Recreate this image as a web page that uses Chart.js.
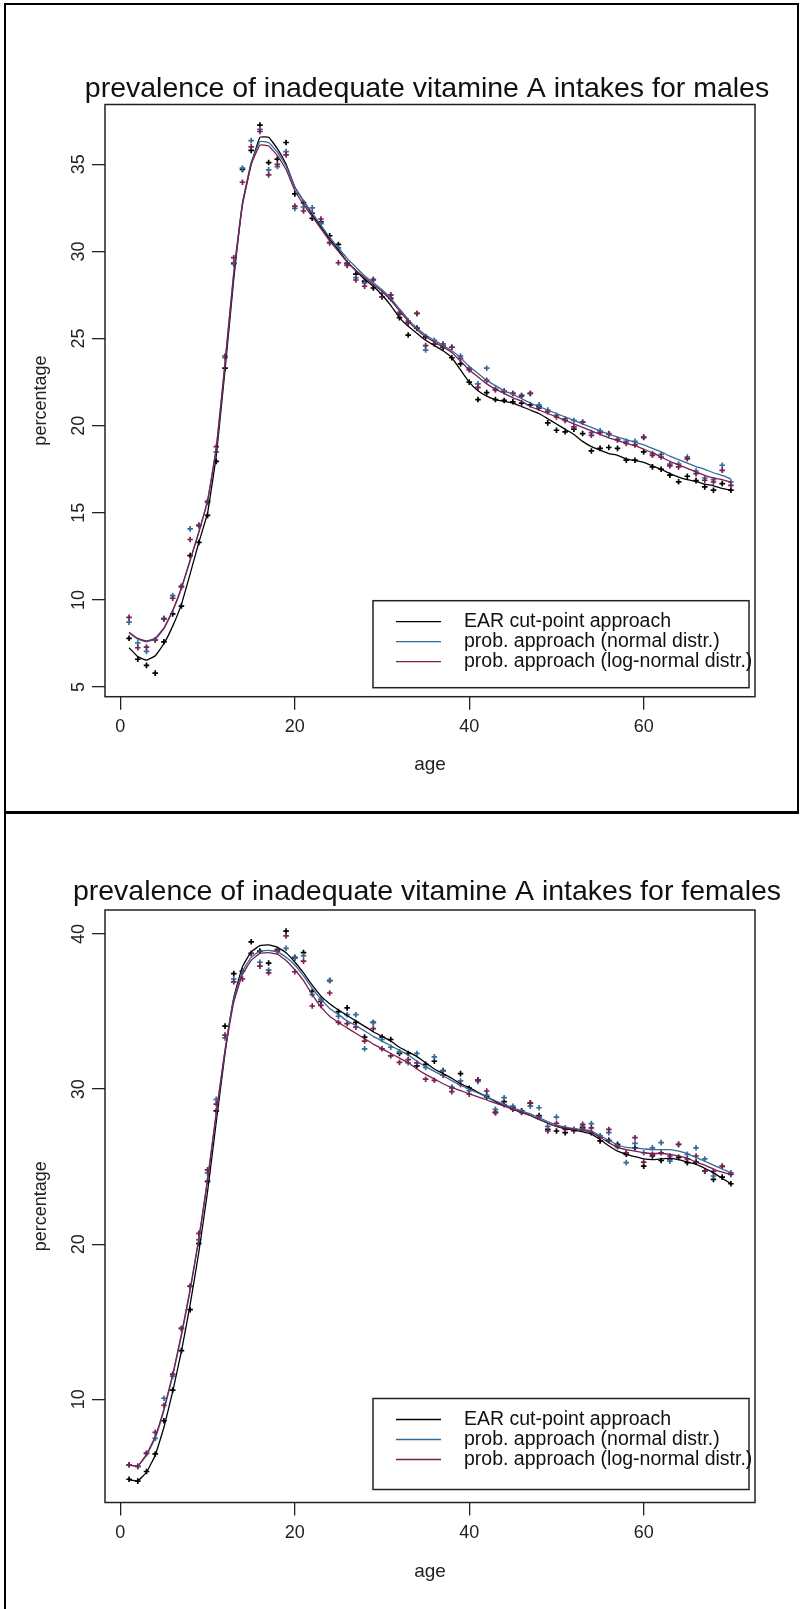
<!DOCTYPE html>
<html lang="en">
<head>
<meta charset="UTF-8">
<title>prevalence of inadequate vitamine A intakes</title>
<script src="https://cdn.jsdelivr.net/npm/chart.js@4.4.1/dist/chart.umd.min.js"></script>
<style>
    body {
        margin: 0;
        background: #fff;
        font-family: "Liberation Sans", Arial, sans-serif;
    }
    .page {
        position: relative;
        width: 800px;
        height: 1609px;
        overflow: hidden;
    }
    .frame {
        position: absolute;
        box-sizing: border-box;
        border: 2px solid #000;
    }
    #frameTop { left: 4px; top: 3px; width: 795px; height: 811px; border-bottom-width: 3px; }
    #frameBottom { left: 4px; top: 811px; width: 820px; height: 820px; border-top: none; }
    canvas { position: absolute; left: 0; }
    #maleChart { top: 0; }
    #femaleChart { top: 811px; }
</style>
</head>
<body>
<div class="page">
    <div class="frame" id="frameTop"></div>
    <div class="frame" id="frameBottom"></div>
    <canvas id="maleChart" width="800" height="811"></canvas>
    <canvas id="femaleChart" width="800" height="798"></canvas>
</div>

<script>
// ages 1..70
const ages = [1,2,3,4,5,6,7,8,9,10,11,12,13,14,15,16,17,18,19,20,
    21,22,23,24,25,26,27,28,29,30,31,32,33,34,35,36,37,38,39,40,
    41,42,43,44,45,46,47,48,49,50,51,52,53,54,55,56,57,58,59,60,
    61,62,63,64,65,66,67,68,69,70];

const seriesNames = ['EAR cut-point approach', 'prob. approach (normal distr.)', 'prob. approach (log-normal distr.)'];
const xTicks = [0, 20, 40, 60];
const maleYTicks = [5, 10, 15, 20, 25, 30, 35];
const femaleYTicks = [10, 20, 30, 40];

// males - observed
const maleEarPts = [7.8,6.6,6.25,5.8,7.6,9.2,9.65,12.55,13.3,14.85,
    17.95,23.3,29.3,34.7,35.8,37.25,35.1,35.3,36.25,33.3,
    32.8,31.9,31.7,30.9,30.4,29.3,28.7,28.3,27.9,27.4,
    27.3,26.2,25.2,25.6,25.1,24.7,24.5,23.9,23.55,22.5,
    21.5,21.9,21.5,21.45,21.37,21.3,21.2,21.1,20.16,19.74,
    19.65,19.8,19.55,18.55,18.7,18.75,18.7,18.02,18.02,18.5,
    17.64,17.5,17.16,16.78,17.1,16.85,16.49,16.3,16.68,16.3];
const maleNormPts = [8.73,7.53,7.05,7.7,8.95,10.25,10.8,14.08,14.25,15.6,
    18.5,23.9,29.35,34.78,36.36,37.0,34.68,34.87,35.73,32.47,
    32.55,32.5,31.6,30.5,30.2,29.35,28.5,28.2,28.4,27.6,
    27.5,26.5,26.0,26.44,24.34,24.9,24.7,24.5,24.0,23.3,
    22.4,23.3,22.1,22.0,21.85,21.75,21.85,21.2,20.9,20.6,
    20.4,20.3,20.2,19.6,19.7,19.5,19.2,19.1,19.1,19.36,
    18.4,18.35,17.8,17.8,18.2,17.4,17.0,16.9,17.73,16.77];
const maleLogPts = [9.0,7.26,7.3,7.7,8.9,10.1,10.75,13.47,14.3,15.66,
    18.8,24.0,29.64,33.97,36.0,36.88,34.39,35.0,35.54,32.6,
    32.32,32.2,31.86,30.5,29.35,29.2,28.36,28.0,28.36,27.4,
    27.5,26.4,25.9,26.44,24.6,24.7,24.6,24.5,23.86,23.2,
    22.2,22.6,22.05,21.95,21.85,21.7,21.85,21.0,20.8,20.5,
    20.3,19.93,20.2,19.45,19.6,19.55,19.2,18.98,18.9,19.32,
    18.3,18.2,17.7,17.64,18.1,17.25,16.87,16.77,17.44,16.58];

// males - smoothed
const maleEarFit = [7.26,6.75,6.55,6.8,7.5,8.5,9.75,11.5,13.3,15.0,
    18.3,23.2,28.4,32.7,35.0,36.55,36.55,35.9,35.0,33.7,
    32.9,32.1,31.4,30.7,30.1,29.4,28.9,28.4,28.0,27.5,
    26.9,26.2,25.7,25.3,24.9,24.6,24.3,23.9,23.2,22.5,
    22.0,21.7,21.5,21.4,21.3,21.1,20.9,20.7,20.4,20.1,
    19.8,19.5,19.1,18.8,18.6,18.4,18.3,18.1,18.0,17.9,
    17.7,17.5,17.25,17.05,16.9,16.8,16.65,16.55,16.4,16.3];
const maleNormFit = [8.1,7.75,7.6,7.75,8.35,9.35,10.65,12.25,13.9,15.7,
    18.7,23.6,28.8,32.8,35.1,36.3,36.25,35.7,34.9,33.7,
    32.9,32.2,31.5,30.8,30.2,29.6,29.1,28.6,28.2,27.8,
    27.3,26.7,26.1,25.6,25.2,24.9,24.6,24.3,23.9,23.4,
    23.0,22.6,22.3,22.0,21.8,21.55,21.3,21.1,20.9,20.7,
    20.5,20.3,20.1,19.9,19.7,19.5,19.35,19.2,19.05,18.9,
    18.7,18.5,18.25,18.05,17.85,17.65,17.5,17.3,17.15,16.95];
const maleLogFit = [8.15,7.8,7.65,7.8,8.4,9.4,10.7,12.3,13.9,15.7,
    18.7,23.6,28.7,32.7,35.0,36.1,36.05,35.5,34.7,33.5,
    32.7,32.0,31.3,30.6,30.0,29.4,28.9,28.5,28.1,27.7,
    27.2,26.6,26.0,25.5,25.1,24.8,24.5,24.2,23.7,23.2,
    22.8,22.4,22.1,21.85,21.6,21.4,21.1,20.9,20.7,20.5,
    20.3,20.1,19.9,19.7,19.5,19.3,19.15,19.0,18.85,18.65,
    18.45,18.2,17.95,17.75,17.55,17.35,17.15,17.0,16.9,16.75];

// females - observed
const femaleEarPts = [4.85,4.73,5.35,6.48,8.62,10.6,13.14,15.78,20.05,24.06,
    28.6,34.06,37.45,37.6,39.5,38.9,38.13,39.0,40.19,38.5,
    38.8,36.3,35.66,37.0,35.0,35.24,34.3,33.36,34.3,33.36,
    33.2,32.3,32.3,31.5,31.6,31.8,31.2,30.1,31.0,30.06,
    30.6,29.5,28.5,29.2,28.8,28.6,29.1,28.3,27.4,27.3,
    27.2,27.4,27.5,27.2,26.66,26.7,26.44,25.8,26.22,25.04,
    25.69,25.4,25.5,25.6,25.26,25.3,24.72,24.18,24.33,23.9];
const femaleNormPts = [5.78,5.68,6.5,7.49,10.07,11.5,14.57,17.3,20.3,24.6,
    29.34,33.3,37.1,37.6,38.75,38.18,37.67,38.95,39.08,38.45,
    38.6,36.1,35.8,37.0,34.7,34.8,34.8,32.6,34.3,33.2,
    32.7,32.4,31.7,32.3,31.4,32.08,31.17,30.1,30.53,29.9,
    30.5,29.6,28.7,29.45,28.9,28.55,28.9,28.8,27.6,28.2,
    27.5,27.4,27.6,27.78,27.0,27.2,26.3,25.26,26.5,25.9,
    26.22,26.55,25.36,26.44,25.8,26.22,25.5,24.4,25.0,24.6];
const femaleLogPts = [5.78,5.68,6.53,7.87,9.62,11.63,14.57,17.28,20.7,24.8,
    29.04,33.48,36.92,37.1,38.75,37.93,37.5,38.9,39.88,37.57,
    38.25,35.36,35.4,36.2,34.3,34.23,34.0,33.1,33.9,32.6,
    32.15,31.72,31.9,31.7,30.64,30.57,30.9,29.84,30.3,29.67,
    30.6,29.88,28.48,29.0,28.7,28.5,29.1,28.2,27.3,27.8,
    27.4,27.3,27.73,27.5,26.9,27.4,26.3,25.9,26.87,25.3,
    25.8,25.9,25.69,26.44,25.5,25.69,24.72,24.7,25.04,24.5];

// females - smoothed
const femaleEarFit = [4.8,4.75,5.3,6.4,8.2,10.5,13.1,16.1,19.5,23.4,
    27.9,32.3,35.9,37.9,38.85,39.25,39.3,39.15,38.8,38.2,
    37.5,36.7,36.0,35.5,35.1,34.75,34.4,34.05,33.7,33.4,
    33.1,32.7,32.4,32.1,31.7,31.3,31.0,30.7,30.35,30.1,
    29.8,29.5,29.2,28.95,28.7,28.5,28.3,28.05,27.8,27.6,
    27.45,27.35,27.25,27.1,26.75,26.35,26.0,25.8,25.65,25.5,
    25.45,25.5,25.55,25.45,25.3,25.15,24.9,24.6,24.25,23.9];
const femaleNormFit = [5.75,5.7,6.4,7.5,9.3,11.5,14.1,17.0,20.3,24.1,
    28.4,32.5,35.8,37.6,38.5,38.9,38.95,38.85,38.5,38.0,
    37.3,36.5,35.8,35.2,34.8,34.4,34.1,33.75,33.4,33.1,
    32.8,32.5,32.2,31.8,31.45,31.15,30.85,30.55,30.25,30.0,
    29.75,29.5,29.25,29.0,28.8,28.6,28.4,28.15,27.9,27.7,
    27.55,27.45,27.4,27.3,27.0,26.7,26.4,26.25,26.2,26.15,
    26.1,26.1,26.1,26.0,25.85,25.6,25.35,25.1,24.85,24.6];
const femaleLogFit = [5.75,5.7,6.45,7.6,9.4,11.6,14.2,17.1,20.4,24.2,
    28.5,32.5,35.6,37.4,38.3,38.75,38.8,38.7,38.3,37.7,
    37.0,36.1,35.3,34.7,34.3,33.95,33.6,33.25,32.9,32.6,
    32.3,32.0,31.7,31.3,30.95,30.65,30.35,30.1,29.9,29.7,
    29.5,29.3,29.1,28.9,28.7,28.5,28.3,28.05,27.8,27.6,
    27.5,27.4,27.35,27.2,26.9,26.55,26.25,26.1,26.0,25.9,
    25.85,25.85,25.8,25.7,25.55,25.3,25.1,24.85,24.65,24.5];

const colors = ['#000000', '#356b9a', '#7a1f50'];
const fontFamily = '"Liberation Sans", Arial, sans-serif';

function toXY(vals) {
    return vals.map((v, i) => ({x: ages[i], y: v}));
}

// R-like decorations: main title, box round the plot region, legend bottom right
const rFrame = {
    id: 'rFrame',
    afterDatasetsDraw(chart) {
        const {ctx, chartArea: a} = chart;
        ctx.save();
        ctx.strokeStyle = '#222';
        ctx.lineWidth = 1.5;
        ctx.strokeRect(a.left, a.top, a.right - a.left, a.bottom - a.top);
        ctx.restore();
    },
    afterDraw(chart, args, opts) {
        const {ctx, chartArea: a} = chart;
        ctx.save();
        // main title, centred over the plot region
        ctx.fillStyle = '#111';
        ctx.font = '28.5px ' + fontFamily;
        ctx.textAlign = 'center';
        ctx.textBaseline = 'middle';
        ctx.fillText(opts.title, (a.left + a.right) / 2 - 3, a.top - opts.titleAbove);

        // legend
        const left = a.left + 268, top = a.bottom - opts.fromBottom;
        const w = 376, h = opts.height;
        ctx.fillStyle = '#fff';
        ctx.fillRect(left, top, w, h);
        ctx.strokeStyle = '#222';
        ctx.lineWidth = 1.5;
        ctx.strokeRect(left, top, w, h);
        ctx.font = '19.5px ' + fontFamily;
        ctx.textAlign = 'left';
        seriesNames.forEach((name, i) => {
            const y = top + 21 + i * 20;
            ctx.strokeStyle = colors[i];
            ctx.lineWidth = 1.3;
            ctx.beginPath();
            ctx.moveTo(left + 23, y);
            ctx.lineTo(left + 68, y);
            ctx.stroke();
            ctx.fillStyle = '#111';
            ctx.fillText(name, left + 91, y);
        });
        ctx.restore();
    }
};

function makeChart(id, cfg) {
    const datasets = [];
    cfg.fits.forEach((f, i) => datasets.push({
        label: seriesNames[i],
        data: toXY(f),
        showLine: true,
        borderColor: colors[i],
        borderWidth: 1.3,
        pointRadius: 0,
        tension: 0.1,
        order: 2 - i
    }));
    cfg.points.forEach((p, i) => datasets.push({
        label: seriesNames[i] + ' (observed)',
        data: toXY(p),
        showLine: false,
        pointStyle: 'cross',
        pointRadius: 2.8,
        borderColor: colors[i],
        borderWidth: 1.7,
        order: 5 - i
    }));

    return new Chart(document.getElementById(id), {
        type: 'scatter',
        data: {datasets: datasets},
        plugins: [rFrame],
        options: {
            responsive: false,
            animation: false,
            layout: {padding: {left: 0, right: 45, top: cfg.plotTop, bottom: 0}},
            plugins: {
                legend: {display: false},
                tooltip: {enabled: false},
                title: {display: false},
                rFrame: {
                    title: cfg.title, titleAbove: cfg.titleAbove,
                    fromBottom: cfg.legendFromBottom, height: cfg.legendHeight
                }
            },
            scales: {
                x: {
                    type: 'linear',
                    min: -1.76,
                    max: 72.76,
                    afterBuildTicks: s => { s.ticks = xTicks.map(v => ({value: v})); },
                    afterFit: s => { s.height = cfg.xAxisHeight; },
                    grid: {drawOnChartArea: false, tickLength: 13, color: '#222', lineWidth: 1.3},
                    border: {display: false},
                    ticks: {color: '#222', padding: 7, font: {family: fontFamily, size: 18}},
                    title: {
                        display: true, text: 'age', color: '#222',
                        font: {family: fontFamily, size: 19},
                        padding: {top: 0, bottom: cfg.ageGap}
                    }
                },
                y: {
                    type: 'linear',
                    min: cfg.yMin,
                    max: cfg.yMax,
                    afterBuildTicks: s => { s.ticks = cfg.yTicks.map(v => ({value: v})); },
                    afterFit: s => { s.width = 105; },
                    grid: {drawOnChartArea: false, tickLength: 13, color: '#222', lineWidth: 1.3},
                    border: {display: false},
                    ticks: {
                        color: '#222', padding: 3, minRotation: 90, maxRotation: 90,
                        crossAlign: 'center',
                        font: {family: fontFamily, size: 18}
                    },
                    title: {
                        display: true, text: 'percentage', color: '#222',
                        font: {family: fontFamily, size: 18},
                        padding: {top: 30, bottom: 0}
                    }
                }
            }
        }
    });
}

makeChart('maleChart', {
    title: 'prevalence of inadequate vitamine A intakes for males',
    points: [maleEarPts, maleNormPts, maleLogPts],
    fits: [maleEarFit, maleNormFit, maleLogFit],
    yTicks: maleYTicks, yMin: 4.45, yMax: 38.43,
    plotTop: 104.5, titleAbove: 15.5, xAxisHeight: 114.3, ageGap: 34.6,
    legendFromBottom: 96, legendHeight: 87
});

makeChart('femaleChart', {
    title: 'prevalence of inadequate vitamine A intakes for females',
    points: [femaleEarPts, femaleNormPts, femaleLogPts],
    fits: [femaleEarFit, femaleNormFit, femaleLogFit],
    yTicks: femaleYTicks, yMin: 3.35, yMax: 41.55,
    plotTop: 99, titleAbove: 18, xAxisHeight: 106.5, ageGap: 26,
    legendFromBottom: 104, legendHeight: 91
});
</script>
</body>
</html>
